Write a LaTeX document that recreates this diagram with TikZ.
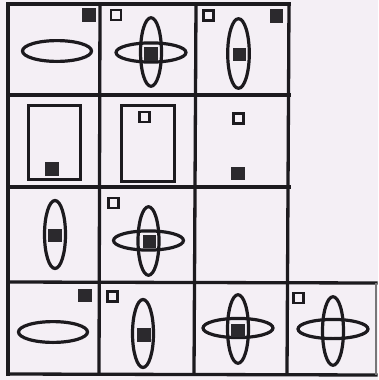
\documentclass[tikz,border=0pt]{standalone}
\definecolor{bgpaper}{HTML}{F4EFF5}
\definecolor{ink}{HTML}{1C1A1E}
\definecolor{sqfill}{HTML}{2B292D}
\newcommand\blksq[2]{\fill[sqfill] (#1-6.6,#2-6.6) rectangle (#1+6.6,#2+6.6);}
\newcommand\holsq[2]{\draw[ink,line width=2.9pt] (#1-5,#2-5) rectangle (#1+5,#2+5);}
\newcommand\hell[2]{\draw[shp] (#1,#2) ellipse [x radius=35, y radius=9.6];}
\newcommand\vell[2]{\draw[shp] (#1,#2) ellipse [x radius=10.5, y radius=34.3];}
\begin{document}
\begin{tikzpicture}[x=1pt,y=-1pt,
  gridline/.style={ink,line width=3.3pt,line cap=rect},
  shp/.style={ink,line width=3.2pt}]
\fill[bgpaper] (0,0) rectangle (378,380);
\useasboundingbox (0,0) rectangle (378,380);
% grid
\draw[gridline] (8,4) -- (289,4);
\draw[gridline] (8,95) -- (289,95);
\draw[gridline] (8,187) -- (289,187);
\draw[gridline] (8,282) -- (376,283);
\draw[gridline] (8,374) -- (376,375);
\draw[gridline] (8,4) -- (8,374);
\draw[gridline] (100,4) -- (99,374);
\draw[gridline] (196,4) -- (194,374);
\draw[gridline] (289,4) -- (287,374);
\draw[ink!60,line width=1.2pt] (376,283) -- (376,375);
% row 1
\blksq{89}{15}
\draw[shp] (57,51) ellipse [x radius=34.5, y radius=10.4];
\holsq{116}{15}
\hell{151}{52.5}\vell{151}{52}
\blksq{151}{54}
\holsq{208.5}{15.5}
\blksq{276.5}{16}
\draw[shp] (238.5,53.5) ellipse [x radius=10.8, y radius=34.8];
\blksq{239.5}{54.5}
% row 2
\draw[shp] (28.5,105.5) rectangle (80.5,179.5);
\blksq{52}{169}
\draw[shp] (121.5,105.5) rectangle (174.5,181.5);
\holsq{144.5}{117}
\holsq{238.5}{118.5}
\blksq{238}{173.5}
% row 3
\draw[shp] (55,234.5) ellipse [x radius=10.5, y radius=34];
\blksq{55}{235.5}
\holsq{113.5}{203}
\hell{148.5}{240.5}\vell{148.5}{241}
\blksq{149.5}{241.5}
% row 4
\blksq{85}{295.5}
\draw[shp] (53,332) ellipse [x radius=34.5, y radius=10.4];
\holsq{112.5}{296.5}
\draw[shp] (143,333.5) ellipse [x radius=10.5, y radius=34];
\blksq{144}{335}
\hell{238}{328}\vell{238}{329}
\blksq{238}{330.5}
\holsq{298.5}{298}
\hell{333}{329}\vell{333}{331}
\end{tikzpicture}
\end{document}
